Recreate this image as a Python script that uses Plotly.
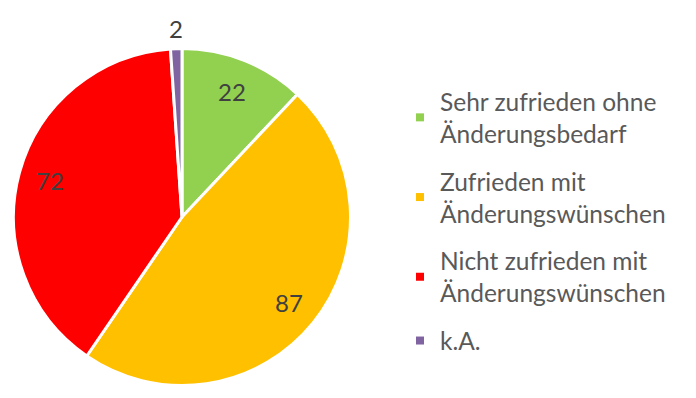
import math
import plotly.graph_objects as go

labels = ["Sehr zufrieden ohne<br>Änderungsbedarf", "Zufrieden mit<br>Änderungswünschen",
          "Nicht zufrieden mit<br>Änderungswünschen", "k.A."]
values = [22, 87, 72, 2]
colors = ["#92D050", "#FFC000", "#FF0000", "#8064A2"]
label_dist = [0.81, 0.82, 0.82, 1.13]   # radial position of value labels (fraction of radius)

W, H = 696, 398
OFF = 8                       # page body margin of the exported html
cx, cy, r = 182 - OFF, 217 - OFF, 168.5
FONT = "Lato"

fig = go.Figure()
fig.add_trace(go.Pie(
    labels=labels, values=values, sort=False, direction="clockwise", rotation=0,
    marker=dict(colors=colors, line=dict(color="white", width=3)),
    textinfo="none", showlegend=False,
    domain=dict(x=[(cx - r) / W, (cx + r) / W], y=[1 - (cy + r) / H, 1 - (cy - r) / H]),
    hoverinfo="label+value",
))

# legend entries (one per category)
for lab, col in zip(labels, colors):
    fig.add_trace(go.Scatter(
        x=[None], y=[None], mode="markers", name=lab, legendgroup=lab,
        marker=dict(symbol="square", size=8, color=col), showlegend=True, hoverinfo="skip",
    ))

# value labels at the slice mid-angles
total = sum(values)
cum = 0
annotations = []
for v, d in zip(values, label_dist):
    mid = (cum + v / 2) / total * 2 * math.pi
    cum += v
    px = cx + d * 167 * math.sin(mid)
    py = cy - d * 167 * math.cos(mid)
    annotations.append(dict(
        x=px / W, y=1 - py / H, xref="paper", yref="paper", text=str(v), showarrow=False,
        font=dict(size=24, color="#404040", family=FONT), xanchor="center", yanchor="middle",
    ))

fig.update_layout(
    width=W, height=H, margin=dict(l=0, r=0, t=0, b=0),
    paper_bgcolor="white", plot_bgcolor="white",
    xaxis=dict(visible=False), yaxis=dict(visible=False),
    showlegend=True,
    legend=dict(x=392 / W, y=1 - 71 / H, xanchor="left", yanchor="top",
                font=dict(size=24.5, color="#595959", family=FONT),
                tracegroupgap=13, bgcolor="rgba(0,0,0,0)"),
    annotations=annotations,
    font=dict(family=FONT),
)
fig.write_html("out.html")
